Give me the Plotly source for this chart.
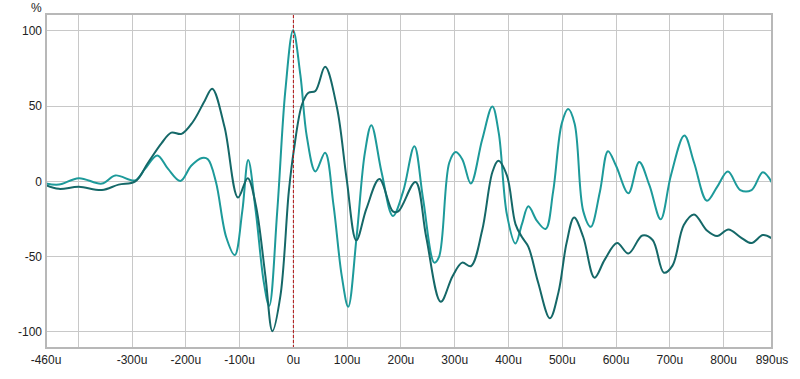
import plotly.graph_objects as go

# time (us) and amplitude (%) for the two impulse traces
dark_t = [-460, -436, -399, -356, -325, -294, -270, -245, -227, -208, -187, -165, -151, -128, -103, -85, -70, -52, -39, -24, -8.5, 1, 16, 28, 41, 59, 81, 99, 117, 136, 160, 185, 195, 227, 247, 274, 296, 314, 330, 351, 370, 381, 397, 413, 425, 437, 455, 477, 493, 508, 522, 539, 560, 579, 602, 623, 649, 668, 689, 705, 726, 745, 769, 788, 809, 831, 852, 873, 890]
dark_y = [-2.6, -5, -3.7, -5.8, -2.2, 0, 12.5, 25.4, 32.3, 31.5, 39.4, 53.4, 61.5, 36, -10.8, 2.1, -15.5, -62.9, -99.5, -75.8, -6.9, 21, 51, 58.8, 60, 76, 49, 1.7, -39.2, -18, 1.5, -20, -20, -0.4, -37, -80, -63, -54, -56.4, -32.7, 6, 13.6, 3.9, -28.4, -37, -43.5, -67, -91, -73.6, -41, -24, -37, -64, -52, -41, -48, -36, -39, -60.7, -56, -29, -22, -32.7, -36.4, -32, -37, -41, -35.7, -38]

light_t = [-460, -436, -399, -356, -331, -294, -276, -253, -233, -210, -190, -170, -159, -144, -125, -109, -95, -84, -70, -55, -45, -30, -15, -0.5, 13, 25, 41, 59, 74.5, 90, 102, 117.5, 133, 145, 164, 185, 204, 225, 241, 262, 271, 290, 302, 314, 330, 351, 370, 382, 397, 413, 425, 437, 453, 469, 483, 499, 511, 523, 539, 553, 570, 585, 600, 623, 643, 662, 683, 702, 727, 745, 769, 788, 808, 831, 852, 873, 890]
light_y = [-1.5, -2.2, 2.1, -1.5, 3.9, 0.6, 8.2, 17.2, 8.2, 0.2, 10.3, 15.5, 14.7, -0.4, -37, -49, -19.8, 14.2, -19.8, -67, -82.7, -19.8, 60, 100.3, 70.6, 29.7, 6.5, 19, -15.5, -63, -83.3, -37, 19, 37.3, 6, -23, -6.9, 23.3, -11.2, -54, -50, 12.5, 19.4, 14.7, -1.5, 27.6, 49.7, 31.8, -22, -41.3, -28.4, -16.6, -26.3, -31.7, -6.9, 38.3, 48, 38.3, -19.8, -30.2, -6.9, 20, 10.3, -7.9, 12.9, -2.6, -25.2, 3.9, 30.4, 12.5, -12.9, -3.7, 6.5, -5.8, -5.8, 6, -1]

x_tickvals = [-460, -400, -300, -200, -100, 0, 100, 200, 300, 400, 500, 600, 700, 800, 890]
x_ticktext = ["-460u", "", "-300u", "-200u", "-100u", "0u", "100u", "200u", "300u", "400u", "500u", "600u", "700u", "800u", "890us"]
y_tickvals = [-100, -50, 0, 50, 100]
y_ticktext = ["-100", "-50", "0", "50", "100"]

fig = go.Figure()
fig.add_trace(go.Scatter(x=light_t, y=light_y, mode="lines",
                         line=dict(color="#1d9a9a", width=2, shape="spline", smoothing=1.0)))
fig.add_trace(go.Scatter(x=dark_t, y=dark_y, mode="lines",
                         line=dict(color="#156868", width=2, shape="spline", smoothing=1.0)))

fig.add_shape(type="line", xref="x", yref="paper", x0=0, x1=0, y0=0, y1=1,
              line=dict(color="#b01010", width=1, dash="3px,2px"))
fig.add_shape(type="rect", xref="paper", yref="paper", x0=0, x1=1, y0=0, y1=1,
              line=dict(color="#b8b8b8", width=2))

fig.add_annotation(text="%", xref="paper", yref="paper", x=-0.004, y=1, yshift=14,
                   xanchor="right", yanchor="top", showarrow=False, borderpad=0,
                   font=dict(family="Liberation Sans, Arial", size=12, color="#222"))

fig.update_layout(
    autosize=True,
    margin=dict(l=46, r=21, t=14, b=22),
    paper_bgcolor="white", plot_bgcolor="white",
    showlegend=False,
    font=dict(family="Liberation Sans, Arial", size=12, color="#222"),
    xaxis=dict(range=[-460, 890], tickvals=x_tickvals, ticktext=x_ticktext,
               showgrid=True, gridcolor="#c8c8c8", gridwidth=1, zeroline=False,
               showline=False, ticks="", ticklabelstandoff=3),
    yaxis=dict(range=[-110.7, 111.1], tickvals=y_tickvals, ticktext=y_ticktext,
               showgrid=True, gridcolor="#c8c8c8", gridwidth=1, zeroline=False,
               showline=False, ticks="", ticklabelstandoff=3),
)

fig.write_html("out.html", config={"displayModeBar": False},
               default_width="100vw", default_height="100vh",
               post_script="document.documentElement.style.overflow='hidden';"
                           "document.body.style.margin='0';document.body.style.overflow='hidden';")
